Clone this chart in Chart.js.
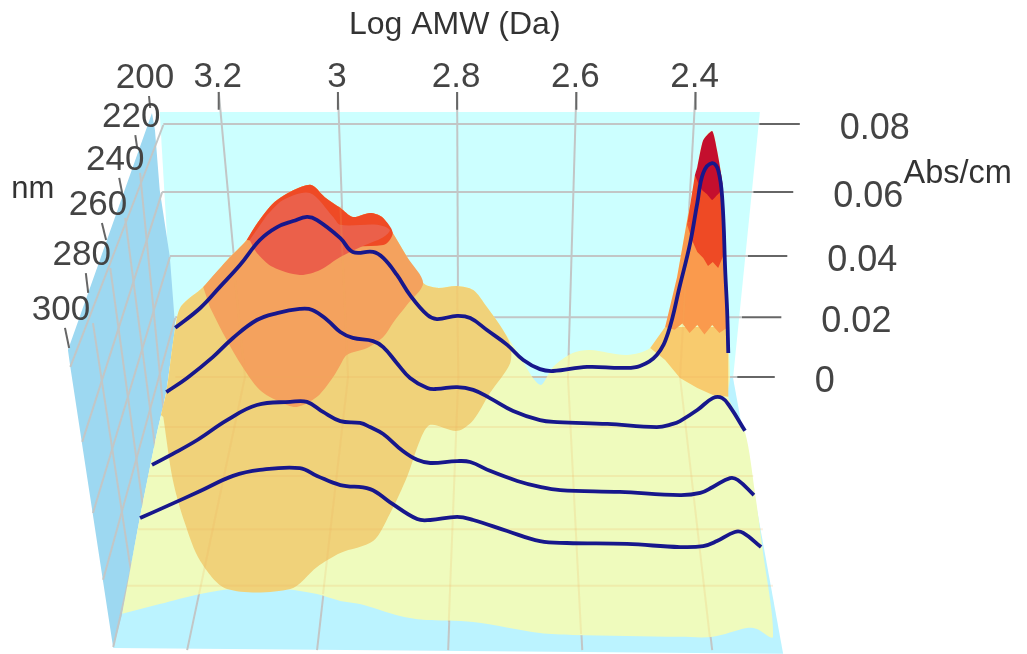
<!DOCTYPE html>
<html>
<head>
<meta charset="utf-8">
<title>Log AMW surface</title>
<script src="https://cdn.jsdelivr.net/npm/chart.js@4"></script>
<style>
  html, body { margin: 0; background: #fff; }
  canvas { display: block; filter: blur(0.55px); }
</style>
</head>
<body>
<canvas id="surfaceChart" width="1027" height="654"></canvas>
<script>
// Tick labels
const logTicks = [3.2, 3, 2.8, 2.6, 2.4];
const absTicks = ['0.08', '0.06', '0.04', '0.02', '0'];
const nmTicks = ['200', '220', '240', '260', '280', '300'];

// The four spectra (log AMW / absorbance as they read against the back wall)
const spectrum1Log = [3.273,3.231,3.198,3.164,3.131,3.102,3.075,3.052,3.035,2.996,2.975,2.941,2.924,2.901,2.879,2.850,2.834,2.800,2.778,2.750,2.716,2.689,2.661,2.639,2.582,2.522,2.493,2.465,2.446,2.426,2.409,2.397,2.387,2.372,2.362,2.355,2.350,2.347,2.345];
const spectrum1Abs = [.0156,.0219,.0286,.0356,.0435,.0476,.0495,.0508,.0498,.0441,.0397,.0397,.0378,.0324,.0260,.0197,.0184,.0194,.0187,.0149,.0102,.0054,.0025,.0019,.0032,.0029,.0035,.0070,.0140,.0292,.0425,.0552,.0648,.0679,.0657,.0562,.0330,.0213,.0076];
const spectrum2Log = [3.288,3.253,3.210,3.176,3.136,3.102,3.064,3.043,3.018,2.996,2.975,2.941,2.924,2.901,2.879,2.850,2.834,2.800,2.773,2.745,2.706,2.661,2.632,2.548,2.465,2.438,2.426,2.397,2.371,2.355,2.342,2.317];
const spectrum2Abs = [-.0048,-.0003,.0063,.0124,.0181,.0203,.0216,.0213,.0181,.0143,.0124,.0114,.0095,.0044,-.0003,-.0035,-.0038,-.0032,-.0041,-.0067,-.0108,-.0137,-.0143,-.0149,-.0159,-.0149,-.0140,-.0105,-.0067,-.0067,-.0095,-.0171];
const spectrum3Log = [3.312,3.277,3.236,3.186,3.136,3.080,3.052,3.025,2.996,2.963,2.946,2.924,2.891,2.867,2.845,2.800,2.778,2.745,2.699,2.661,2.627,2.527,2.426,2.392,2.371,2.342,2.329,2.302];
const spectrum3Abs = [-.0279,-.0244,-.0200,-.0137,-.0089,-.0079,-.0079,-.0111,-.0140,-.0146,-.0159,-.0181,-.0235,-.0263,-.0273,-.0267,-.0270,-.0298,-.0330,-.0349,-.0359,-.0365,-.0375,-.0368,-.0349,-.0321,-.0327,-.0375];
const spectrum4Log = [3.332,3.287,3.231,3.176,3.131,3.064,3.035,2.996,2.946,2.913,2.867,2.845,2.800,2.773,2.716,2.661,2.616,2.515,2.426,2.387,2.364,2.334,2.320,2.290];
const spectrum4Abs = [-.0448,-.0410,-.0362,-.0314,-.0295,-.0289,-.0314,-.0343,-.0356,-.0397,-.0451,-.0454,-.0444,-.0454,-.0489,-.0521,-.0527,-.0530,-.0540,-.0537,-.0521,-.0492,-.0495,-.0540];

// Surface outline and its colour bands
const surfaceLog = [3.362,3.332,3.304,3.288,3.273,3.263,3.226,3.186,3.153,3.134,3.102,3.047,3.022,2.996,2.975,2.946,2.926,2.908,2.884,2.857,2.834,2.800,2.773,2.750,2.723,2.699,2.661,2.639,2.606,2.577,2.515,2.476,2.451,2.431,2.414,2.397,2.387,2.372,2.364,2.355,2.350,2.347,2.345,2.342,2.345,2.317,2.300,2.288,2.270,2.297,2.314,2.371,2.426,2.606,2.661,2.773,2.857,2.896,2.963,2.996,3.035,3.092,3.176,3.231,3.299];
const surfaceAbs = [-.0752,-.0444,-.0181,-.0048,.0156,.0225,.0286,.0371,.0435,.0492,.0562,.0610,.0571,.0537,.0508,.0521,.0508,.0457,.0381,.0298,.0283,.0289,.0276,.0222,.0149,.0079,-.0025,.0032,.0076,.0086,.0070,.0092,.0159,.0317,.0498,.0667,.0752,.0781,.0721,.0616,.0330,.0213,.0108,0,-.0063,-.0175,-.0371,-.0540,-.0825,-.0800,-.0797,-.0825,-.0825,-.0819,-.0813,-.0778,-.0771,-.0759,-.0721,-.0711,-.0689,-.0673,-.0673,-.0689,-.0721];
const tanLog = [3.297,3.288,3.273,3.263,3.226,3.186,3.153,3.134,3.102,3.047,3.022,2.996,2.975,2.946,2.926,2.908,2.884,2.857,2.834,2.800,2.773,2.750,2.723,2.711,2.711,2.745,2.773,2.800,2.845,2.862,2.884,2.913,2.941,2.996,3.035,3.080,3.186,3.231,3.257,3.277,3.293];
const tanAbs = [-.0121,-.0048,.0156,.0225,.0286,.0371,.0435,.0492,.0562,.0610,.0571,.0537,.0508,.0521,.0508,.0457,.0381,.0298,.0283,.0289,.0276,.0222,.0149,.0102,.0044,-.0051,-.0137,-.0171,-.0152,-.0200,-.0317,-.0435,-.0521,-.0559,-.0603,-.0673,-.0673,-.0584,-.0463,-.0327,-.0127];
const orangeLog = [3.226,3.186,3.153,3.134,3.102,3.047,3.022,2.996,2.975,2.946,2.926,2.908,2.884,2.857,2.884,2.908,2.924,2.951,2.985,2.996,3.008,3.035,3.069,3.097,3.131,3.164,3.193,3.215];
const orangeAbs = [.0286,.0371,.0435,.0492,.0562,.0610,.0571,.0537,.0508,.0521,.0508,.0457,.0381,.0298,.0229,.0171,.0127,.0092,.0070,.0038,0,-.0063,-.0095,-.0079,-.0041,.0044,.0140,.0222];
const redLog = [3.153,3.134,3.102,3.047,3.022,2.996,2.975,2.946,2.926,2.908,2.924,3.064];
const redAbs = [.0435,.0492,.0562,.0610,.0571,.0537,.0508,.0521,.0508,.0457,.0419,.0419];
const salmonLog = [3.148,3.136,3.109,3.064,3.030,2.996,2.958,2.924,2.913,2.934,2.996,3.008,3.047,3.092,3.119];
const salmonAbs = [.0435,.0394,.0349,.0324,.0340,.0381,.0416,.0444,.0467,.0483,.0483,.0508,.0584,.0562,.0514];

// Bands of the narrow peak
const peakTanLog = [2.476,2.451,2.345,2.345,2.371,2.397,2.426,2.451];
const peakTanAbs = [.0092,.0159,.0159,-.0063,-.0057,-.0035,-.0003,.0054];
const peakOrangeLog = [2.451,2.431,2.414,2.409,2.350,2.347,2.345,2.360,2.372,2.385,2.397,2.410,2.422,2.435];
const peakOrangeAbs = [.0159,.0317,.0498,.0546,.0403,.0213,.0159,.0140,.0165,.0135,.0165,.0140,.0170,.0150];
const peakRedLog = [2.401,2.409,2.414,2.406,2.397,2.387,2.379,2.371,2.362,2.355,2.350,2.354,2.355];
const peakRedAbs = [.0641,.0546,.0483,.0435,.0397,.0378,.0352,.0365,.0346,.0378,.0403,.0594,.0616];
const peakCrimsonLog = [2.401,2.397,2.387,2.372,2.364,2.355,2.359,2.365,2.372,2.381,2.389,2.396];
const peakCrimsonAbs = [.0641,.0667,.0752,.0781,.0721,.0616,.0587,.0575,.0562,.0581,.0594,.0619];

// Walls and floor
const backWallLog = [3.299,2.292,2.337,3.273];
const backWallAbs = [.0841,.0841,-.0003,-.0003];
const floorLog = [3.282,2.337,2.253,3.377];
const floorAbs = [-.0003,-.0003,-.0879,-.0860];
const sideWallLog = [3.312,3.453,3.449,3.377,3.362,3.332,3.304,3.288,3.273,3.282,3.299,3.307];
const sideWallAbs = [.0838,.0086,.0032,-.0860,-.0752,-.0444,-.0181,-.0048,.0156,.0381,.0594,.0784];

// Grid rows and columns
const rowAbs = [.0803,.0587,.0384,.0190,0];
const rowStartLog = [3.293,3.295,3.282,3.273,3.273];
const rowEndLog = [2.293,2.303,2.312,2.322,2.330];
const rowTickEndLog = [2.225,2.236,2.246,2.256,2.267];
const columnWallFootLog = [3.156,2.983,2.798,2.614,2.426];
const columnFloorFootLog = [3.253,3.035,2.815,2.590,2.372];
const columnTopAbs = .0905, columnTickEndAbs = .0848, columnFootAbs = -.0867;
const coveredColumnLog = [3.176,2.996,2.800,2.612,2.411];
const coveredColumnAbs = [.0371,.0543,.0289,.0076,.0492];
const coveredFootLog = [3.233,3.025,2.814,2.592,2.376];
const coveredFootAbs = [-.0689,-.0689,-.0778,-.0816,-.0825];
const floorRowAbs = [0,-.0159,-.0314,-.0483,-.0663];
const floorRowStartLog = [3.273,3.299,3.319,3.335,3.354];
const floorRowEndLog = [2.342,2.319,2.303,2.287,2.270];

// Side wall grid: pairs of end points
const sideRowLog = [[3.293,3.449],[3.295,3.429],[3.282,3.411],[3.273,3.394],[3.273,3.377]];
const sideRowAbs = [[.0800,.0032],[.0587,-.0206],[.0381,-.0432],[.0187,-.0644],[-.0003,-.0857]];
const sideColLog = [[3.332,3.290],[3.357,3.304],[3.382,3.324],[3.411,3.345]];
const sideColAbs = [[.0648,-.0159],[.0505,-.0263],[.0346,-.0454],[.0171,-.0644]];
const nmTickLog = [[3.317,3.315],[3.340,3.337],[3.367,3.362],[3.396,3.389],[3.423,3.419],[3.458,3.451]];
const nmTickAbs = [[.0892,.0854],[.0768,.0730],[.0632,.0584],[.0489,.0435],[.0330,.0267],[.0156,.0092]];

const zip = (xs, ys) => xs.map((x, i) => ({ x: x, y: ys[i] }));

function shape(xs, ys, color, tension) {
  return { data: zip(xs, ys), showLine: true, fill: 'shape', backgroundColor: color,
           borderColor: 'transparent', borderWidth: 0, pointRadius: 0, tension: tension || 0 };
}
function line(xs, ys, color, width, tension) {
  return { data: zip(xs, ys), showLine: true, fill: false, borderColor: color,
           borderWidth: width, pointRadius: 0, tension: tension || 0, borderCapStyle: 'butt' };
}

const GRID = '#c2c6c6', TICK = '#666666', FAINT = 'rgba(238,170,90,0.18)', NAVY = '#17178c';
const layers = [];

// back of the box
layers.push(shape(backWallLog, backWallAbs, '#ccffff'));
rowAbs.forEach((a, i) => {
  layers.push(line([rowStartLog[i], rowEndLog[i]], [a, a], GRID, 2));
  layers.push(line([rowEndLog[i], rowTickEndLog[i]], [a, a], TICK, 2));
});
logTicks.forEach((t, i) => {
  layers.push(line([t, columnWallFootLog[i]], [columnTopAbs, 0], GRID, 2));
});
layers.push(shape(floorLog, floorAbs, '#bbf3ff'));
logTicks.forEach((t, i) => {
  layers.push(line([columnWallFootLog[i], columnFloorFootLog[i]], [0, columnFootAbs], GRID, 2));
  layers.push(line([t, t], [columnTopAbs, columnTickEndAbs], TICK, 2));
});

// side wall
layers.push(shape(sideWallLog, sideWallAbs, '#9dd8f1'));
sideRowLog.forEach((p, i) => layers.push(line(p, sideRowAbs[i], GRID, 2)));
sideColLog.forEach((p, i) => layers.push(line(p, sideColAbs[i], GRID, 2)));
nmTickLog.forEach((p, i) => layers.push(line(p, nmTickAbs[i], TICK, 2)));

// surface
layers.push(shape(surfaceLog, surfaceAbs, '#effbbd', 0.3));
layers.push(shape(tanLog, tanAbs, '#f0d27a', 0.3));
layers.push(shape(orangeLog, orangeAbs, '#f4a25e', 0.3));
layers.push(shape(redLog, redAbs, '#ef4a25', 0.3));
layers.push(shape(salmonLog, salmonAbs, '#eb604a', 0.3));
layers.push(shape(peakTanLog, peakTanAbs, '#f8cb6e'));
layers.push(shape(peakOrangeLog, peakOrangeAbs, '#fa9a4d'));
layers.push(shape(peakRedLog, peakRedAbs, '#ee4a25'));
layers.push(shape(peakCrimsonLog, peakCrimsonAbs, '#c40f2e', 0.2));

// grid showing through the surface
floorRowAbs.forEach((a, i) => layers.push(line([floorRowStartLog[i], floorRowEndLog[i]], [a, a], FAINT, 2)));
logTicks.forEach((t, i) => {
  layers.push(line([coveredColumnLog[i], columnWallFootLog[i]], [coveredColumnAbs[i], 0], FAINT, 2));
  layers.push(line([columnWallFootLog[i], coveredFootLog[i]], [0, coveredFootAbs[i]], FAINT, 2));
});

// spectra on top
layers.push(line(spectrum1Log, spectrum1Abs, NAVY, 3.8, 0.4));
layers.push(line(spectrum2Log, spectrum2Abs, NAVY, 3.8, 0.4));
layers.push(line(spectrum3Log, spectrum3Abs, NAVY, 3.8, 0.4));
layers.push(line(spectrum4Log, spectrum4Abs, NAVY, 3.8, 0.4));

// first painted = highest order
layers.forEach((d, i) => { d.order = layers.length - i; });

const labelPlugin = {
  id: 'labels',
  afterDatasetsDraw(chart) {
    const c = chart.ctx, x = chart.scales.x, y = chart.scales.y;
    c.save();
    c.fillStyle = '#444444';
    c.textBaseline = 'middle';

    c.font = '35px "Liberation Sans"';
    c.textAlign = 'center';
    logTicks.forEach(t => {
      const s = Number.isInteger(t) ? String(t) : t.toFixed(1);
      c.fillText(s, x.getPixelForValue(t) - 1, y.getPixelForValue(columnTopAbs) - 15);
    });
    nmTicks.forEach((s, i) => {
      c.fillText(s, x.getPixelForValue(nmTickLog[i][0]) - 4, y.getPixelForValue(nmTickAbs[i][0]) - 18);
    });
    c.textAlign = 'left';
    c.font = '36px "Liberation Sans"';
    absTicks.forEach((s, i) => {
      c.fillText(s, x.getPixelForValue(rowTickEndLog[i]) + 40, y.getPixelForValue(rowAbs[i]) + 5);
    });

    c.fillStyle = '#333333';
    c.textAlign = 'center';
    c.font = '32px "Liberation Sans"';
    c.fillText('Log AMW (Da)', x.getPixelForValue(2.804), y.getPixelForValue(.1116));
    c.font = '31px "Liberation Sans"';
    c.fillText('nm', x.getPixelForValue(3.512), y.getPixelForValue(.0594));
    c.font = '32.5px "Liberation Sans"';
    c.fillText('Abs/cm', x.getPixelForValue(1.960), y.getPixelForValue(.0645));
    c.restore();
  }
};

new Chart(document.getElementById('surfaceChart').getContext('2d'), {
  type: 'scatter',
  data: { datasets: layers },
  options: {
    responsive: false,
    animation: false,
    layout: { padding: 0 },
    scales: {
      x: { type: 'linear', display: false, reverse: true, min: 1.8438, max: 3.567 },
      y: { type: 'linear', display: false, min: -.08794, max: .11968 }
    },
    plugins: { legend: { display: false }, tooltip: { enabled: false } }
  },
  plugins: [labelPlugin]
});
</script>
</body>
</html>
